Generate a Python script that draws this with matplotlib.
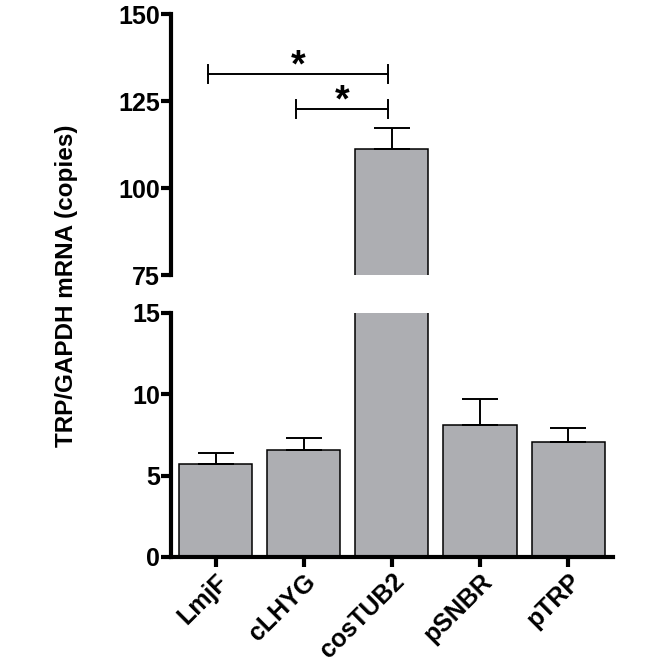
import numpy as np
import matplotlib.pyplot as plt

plt.rcParams['font.family'] = ['Liberation Sans', 'DejaVu Sans']
plt.rcParams['font.weight'] = 'bold'

# data
groups = ['LmjF', 'cLHYG', 'cosTUB2', 'pSNBR', 'pTRP']
means = [5.7, 6.6, 111.3, 8.1, 7.05]
errs = [0.7, 0.7, 6.0, 1.6, 0.85]
# significance brackets: (from, to, y, label)
brackets = [(0, 2, 132.8, '*'), (1, 2, 122.6, '*')]

bar_col = '#adaeb2'
x = np.arange(len(groups))

fig = plt.figure(figsize=(6.7, 6.68), dpi=100)
ax_top = fig.add_axes([0.2552, 0.5883, 0.66, 0.3907])
ax_bot = fig.add_axes([0.2552, 0.1662, 0.66, 0.3653])

for ax in (ax_top, ax_bot):
    ax.bar(x, means, width=0.83, color=bar_col, edgecolor='black', linewidth=1.1)
    ax.errorbar(x, means, yerr=[np.zeros(len(errs)), errs], fmt='none',
                ecolor='black', elinewidth=1.4, capsize=13, capthick=1.4)
    ax.set_xlim(-0.505, 4.51)
    for s in ('top', 'right'):
        ax.spines[s].set_visible(False)
    for s in ('left', 'bottom'):
        ax.spines[s].set_linewidth(3)
        ax.spines[s].set_capstyle('projecting')
    ax.tick_params(axis='y', width=3, length=7, labelsize=18, pad=1)
    ax.tick_params(axis='x', width=3, length=7, labelsize=18, pad=2)
    for lab in ax.get_yticklabels():
        lab.set_fontweight('bold')

ax_top.set_ylim(75, 150)
ax_top.set_yticks([75, 100, 125, 150])
ax_top.spines['bottom'].set_visible(False)
ax_top.set_xticks([])

ax_bot.set_ylim(0, 15)
ax_bot.set_yticks([0, 5, 10, 15])
ax_bot.set_xticks(x)
ax_bot.set_xticklabels(groups, rotation=45, ha='right', rotation_mode='anchor',
                       fontweight='bold')

# significance brackets
for i, j, y, lab in brackets:
    x0, x1 = i - 0.085, j - 0.04
    ax_top.plot([x0, x1], [y, y], color='black', lw=1.4)
    ax_top.plot([x0, x0], [y - 2.6, y + 2.6], color='black', lw=1.4)
    ax_top.plot([x1, x1], [y - 2.6, y + 2.6], color='black', lw=1.4)
    ax_top.text((x0 + x1) / 2, y - 0.7, lab, ha='center', va='baseline',
                fontsize=27, fontweight='bold')

fig.text(0.1, 0.572, 'TRP/GAPDH mRNA (copies)', rotation=90, ha='center',
         va='center', fontsize=17.5, fontweight='bold')

fig.savefig('out.png', dpi=100)
